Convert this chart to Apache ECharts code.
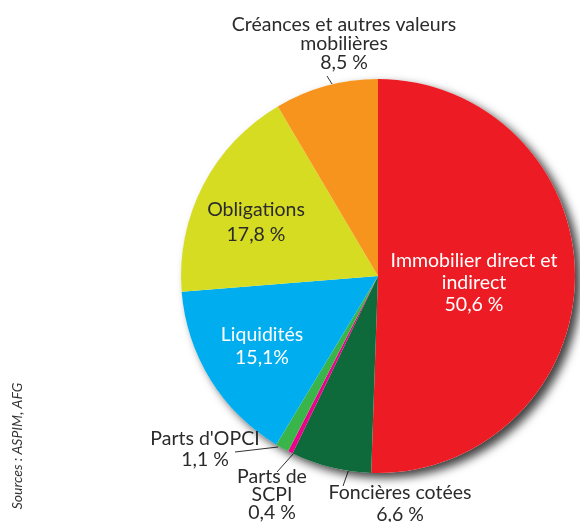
<!DOCTYPE html>
<html>
<head>
<meta charset="utf-8">
<script src="https://cdn.jsdelivr.net/npm/echarts@6/dist/echarts.min.js"></script>
<style>
  html, body { margin: 0; padding: 0; background: #fff; }
  #chart { width: 580px; height: 522px; }
</style>
</head>
<body>
<div id="chart"></div>
<script>
// data, clockwise from 12 o'clock
const names = ['Immobilier direct et\nindirect', 'Foncières cotées', 'Parts de\nSCPI', "Parts d'OPCI", 'Liquidités', 'Obligations', 'Créances et autres valeurs\nmobilières'];
const values = [50.6, 6.6, 0.4, 1.1, 15.1, 17.8, 8.5];
const valueLabels = ['50,6 %', '6,6 %', '0,4 %', '1,1 %', '15,1%', '17,8 %', '8,5 %'];
const colors = ['#ED1C24', '#0F6A3B', '#EC008C', '#3AB54A', '#00AEEF', '#D5DC22', '#F7941D'];

const FONT = 'Lato, "Open Sans", sans-serif';
const CX = 378, CY = 276, R = 197;

// where each label block sits (center of text) + its leader line
const labelSpots = {
  0: { x: 474, y: 283, lh: 22, color: '#fff' },
  1: { x: 400, y: 504, lh: 22, line: [[349, 469], [343, 486]] },
  2: { x: 272, y: 495, lh: 18, line: [[294, 453], [277, 472]] },
  3: { x: 205, y: 449, lh: 21, line: [[278, 447], [235, 452]] },
  4: { x: 262, y: 346, lh: 23, color: '#fff' },
  5: { x: 256, y: 222, lh: 25 },
  6: { x: 344, y: 44, lh: 19, line: [[332, 84], [327, 76]] }
};

const pieData = values.map((v, i) => {
  const spot = labelSpots[i];
  const inside = !spot.line;
  return {
    name: names[i],
    value: v,
    itemStyle: { color: colors[i] },
    label: {
      position: inside ? 'inside' : 'outside',
      color: spot.color || '#2b2b2b',
      lineHeight: spot.lh
    },
    labelLine: { show: !inside }
  };
});

const chart = echarts.init(document.getElementById('chart'), null, { renderer: 'canvas' });

chart.setOption({
  animation: false,
  backgroundColor: '#fff',
  series: [
    {
      // shadow disc behind the pie
      type: 'pie',
      silent: true,
      center: [CX, CY],
      radius: R,
      label: { show: false },
      labelLine: { show: false },
      data: [{
        value: 1,
        itemStyle: {
          color: '#fff',
          shadowBlur: 10,
          shadowOffsetX: 6,
          shadowOffsetY: 5,
          shadowColor: 'rgba(0,0,0,0.75)'
        }
      }]
    },
    {
      type: 'pie',
      center: [CX, CY],
      radius: R,
      startAngle: 90,
      clockwise: true,
      avoidLabelOverlap: false,
      itemStyle: { borderWidth: 0 },
      label: {
        show: true,
        fontFamily: FONT,
        fontSize: 19.5,
        align: 'center',
        formatter: p => p.name + '\n' + valueLabels[p.dataIndex]
      },
      labelLine: {
        show: true,
        length: 6,
        length2: 0,
        lineStyle: { color: '#333', width: 1 }
      },
      labelLayout: params => {
        const spot = labelSpots[params.dataIndex];
        const out = { x: spot.x, y: spot.y, align: 'center', verticalAlign: 'middle' };
        if (spot.line) out.labelLinePoints = spot.line;
        return out;
      },
      data: pieData
    }
  ],
  graphic: [{
    type: 'text',
    x: 17,
    y: 446,
    rotation: Math.PI / 2,
    style: {
      text: 'Sources : ASPIM, AFG',
      font: 'italic 14px ' + FONT,
      fill: '#333',
      align: 'center',
      verticalAlign: 'middle',
      textAlign: 'center',
      textVerticalAlign: 'middle'
    }
  }]
});
</script>
</body>
</html>
